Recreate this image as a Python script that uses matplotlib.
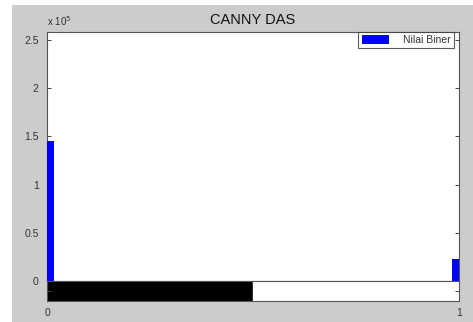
import matplotlib
matplotlib.use("Agg")
import matplotlib.pyplot as plt
from matplotlib.patches import Rectangle

# Data
bin_centers = [0, 1]
counts = [1.456e5, 0.228e5]
series_label = "Nilai Biner"
title = "CANNY DAS"
yticks = [0, 0.5e5, 1e5, 1.5e5, 2e5, 2.5e5]
ytick_labels = ["0", "0.5", "1", "1.5", "2", "2.5"]
xticks = [0, 1]
xtick_labels = ["0", "1"]
gray_levels = [0.0, 1.0]  # colorbar segments: black then white

plt.rcParams['font.family'] = ['Liberation Sans', 'DejaVu Sans']

W, H = 473, 322
fig = plt.figure(figsize=(W / 100, H / 100), dpi=100, facecolor='white')

# gray figure panel
fig.patches.append(Rectangle((12 / W, 0), 1 - 12 / W, 1 - 5 / H, transform=fig.transFigure,
                             facecolor='#cccccc', edgecolor='none', zorder=-10))

ax = fig.add_axes([47 / W, (H - 281) / H, (459 - 47) / W, (281 - 32) / H])
ax.bar(bin_centers, counts, width=0.032, color='#0000ff', label=series_label, zorder=3)
ax.set_xlim(0, 1)
ax.set_ylim(0, 2.584e5)
ax.set_yticks(yticks)
ax.set_yticklabels(ytick_labels, fontsize=7.5, color='#333333')
ax.set_xticks([])
ax.tick_params(axis='y', direction='in', length=3, width=0.7, color='#444444',
               right=True, left=True, pad=6)
for s in ax.spines.values():
    s.set_color('#555555')
    s.set_linewidth(0.8)
ax.set_title(title, fontsize=10.5, color='#111111', pad=6)
ax.text(0.0, 1.015, r"x 10$^5$", transform=ax.transAxes, fontsize=7, color='#333333',
        ha='left', va='bottom')
leg = ax.legend(loc='upper right', bbox_to_anchor=(454 / W, 1 - 32 / H), bbox_transform=fig.transFigure,
                fontsize=7.5, frameon=True, fancybox=False, borderpad=0.3,
                handlelength=2.6, handleheight=0.9, handletextpad=1.4, borderaxespad=0)
leg.get_frame().set_edgecolor('#333333')
leg.get_frame().set_linewidth(0.8)
for t in leg.get_texts():
    t.set_color('#333333')

# colorbar strip
cax = fig.add_axes([47 / W, (H - 301) / H, (459 - 47) / W, 20 / H])
for i, g in enumerate(gray_levels):
    cax.axvspan(i * 0.5, (i + 1) * 0.5, color=str(g), zorder=1)
cax.set_xlim(0, 1)
cax.set_ylim(0, 1)
cax.set_xticks(xticks)
cax.set_xticklabels(xtick_labels, fontsize=7.5, color='#333333')
cax.set_yticks([0.5])
cax.set_yticklabels([])
cax.tick_params(axis='both', direction='in', length=3, width=0.7, color='#444444',
                right=True, left=True, top=False, bottom=False)
cax.tick_params(axis='x', length=0, pad=5)
for s in cax.spines.values():
    s.set_color('#555555')
    s.set_linewidth(0.8)
    s.set_zorder(5)

fig.savefig('out.png', dpi=100, facecolor=fig.get_facecolor())
